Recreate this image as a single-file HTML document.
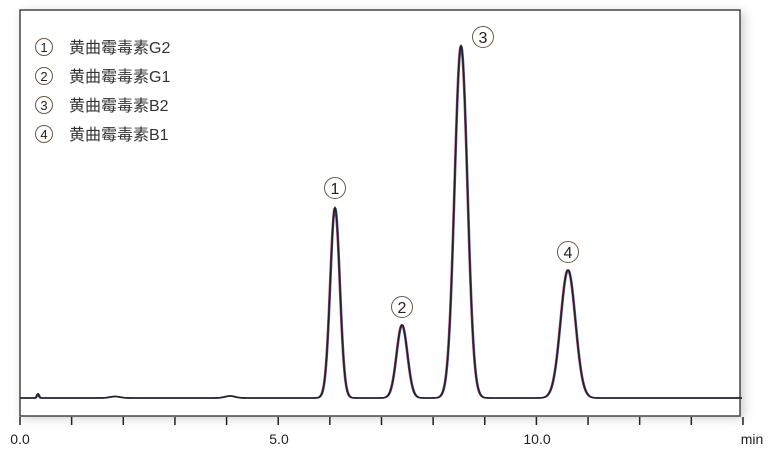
<!DOCTYPE html>
<html><head><meta charset="utf-8"><style>
body{margin:0;background:#fff;}
svg{display:block;}
text{font-family:"Liberation Sans","Noto Sans CJK SC",sans-serif;}
</style></head><body>
<svg id="s" width="768" height="452" viewBox="0 0 768 452" xmlns="http://www.w3.org/2000/svg">
<defs><filter id="sh" x="-5%" y="-5%" width="110%" height="115%"><feGaussianBlur stdDeviation="5"/></filter></defs>
<rect x="22" y="12" width="722" height="406" fill="#ccc" filter="url(#sh)"/>
<rect x="20" y="10" width="720" height="406" fill="#fff" stroke="#444" stroke-width="1.5"/>
<g id="ticks" stroke="#222" stroke-width="1.5"></g>
<path id="c2" fill="none" stroke="#c04070" stroke-width="1.5"/>
<path id="c3" fill="none" stroke="#3a6fb0" stroke-width="1.5"/>
<path id="c1" fill="none" stroke="#222" stroke-width="1.6"/>
<g font-size="14" fill="#222">
<text x="20" y="444" text-anchor="middle">0.0</text>
<text x="279" y="444" text-anchor="middle">5.0</text>
<text x="537" y="444" text-anchor="middle">10.0</text>
<text x="752" y="444" text-anchor="middle">min</text>
</g>
<g fill="none" stroke="#6a5a48" stroke-width="1">
<circle cx="44" cy="47" r="8.5"/><circle cx="44" cy="76" r="8.5"/><circle cx="44" cy="105" r="8.5"/><circle cx="44" cy="134" r="8.5"/>
<circle cx="335" cy="188" r="10.5"/><circle cx="402" cy="307" r="10.5"/><circle cx="483" cy="37" r="10.5"/><circle cx="568" cy="252" r="10.5"/>
</g>
<g font-size="13" fill="#222" text-anchor="middle">
<text x="44" y="52">1</text><text x="44" y="81">2</text><text x="44" y="110">3</text><text x="44" y="139">4</text>
</g>
<g font-size="16" fill="#222" text-anchor="middle">
<text x="335" y="194">1</text><text x="402" y="313">2</text><text x="483" y="43">3</text><text x="568" y="258">4</text>
</g>
<g font-size="16" fill="#333">
<text x="69" y="53">黄曲霉毒素G2</text>
<text x="69" y="82">黄曲霉毒素G1</text>
<text x="69" y="111">黄曲霉毒素B2</text>
<text x="69" y="140">黄曲霉毒素B1</text>
</g>
</svg>
<script>
var g=document.getElementById('ticks'),h='';
for(var i=0;i<=14;i++){var x=20+i*51.64;h+='<line x1="'+x+'" y1="417" x2="'+x+'" y2="425"/>';}
g.innerHTML=h;
var pk=[[335,190,4.8],[402,73,5.4],[461,352,6.4],[568,128,7.4],[38,4,1],[230,2,5],[115,1.5,5]];
function path(dx){var d='';for(var x=20;x<=742;x+=0.5){var y=398;for(var p of pk){var t=(x-p[0]-dx)/p[2];y-=p[1]*Math.exp(-t*t/2);}d+=(x==20?'M':'L')+x+' '+y.toFixed(2);}return d;}
document.getElementById('c1').setAttribute('d',path(0));
document.getElementById('c2').setAttribute('d',path(-0.6));
document.getElementById('c3').setAttribute('d',path(0.6));
</script>
</body></html>
